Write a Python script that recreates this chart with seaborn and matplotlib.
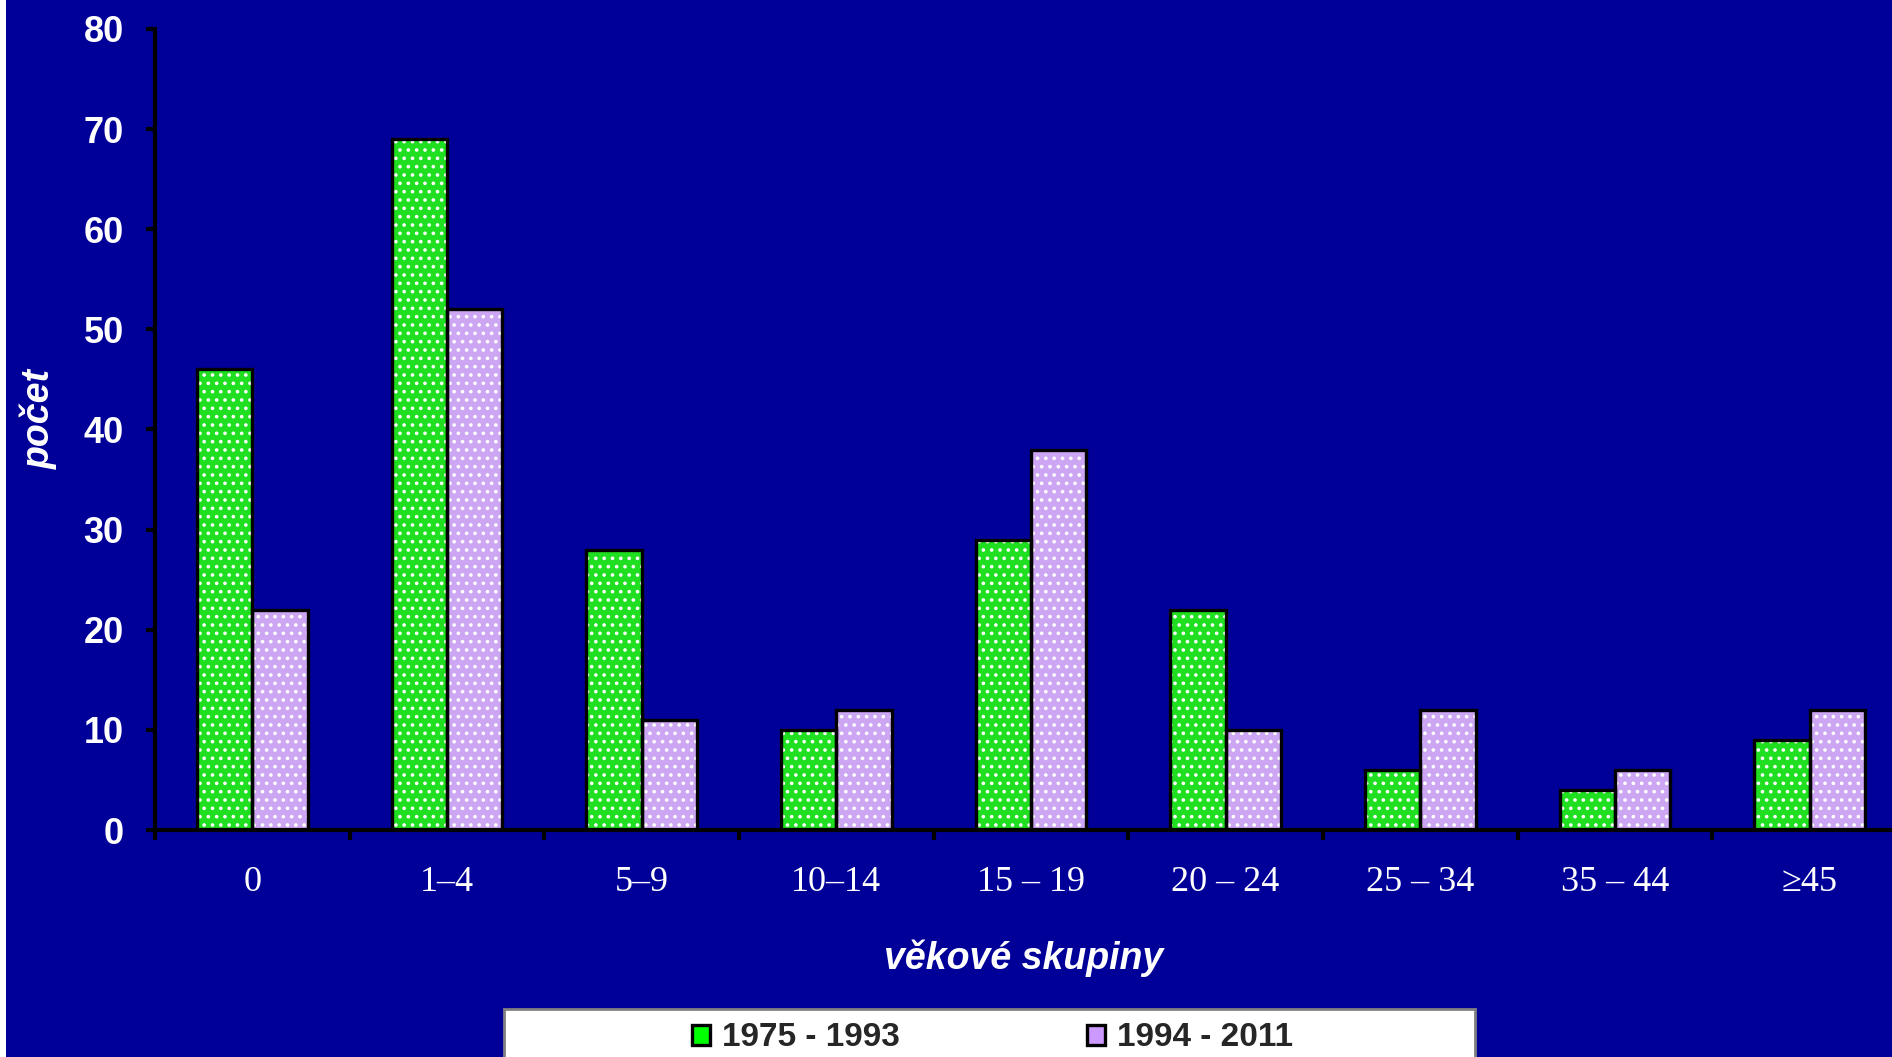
import pandas as pd
import matplotlib
matplotlib.use("Agg")
import matplotlib.pyplot as plt
from matplotlib.patches import Patch, Rectangle
import seaborn as sns

# data
groups = ["0", "1–4", "5–9", "10–14", "15 – 19", "20 – 24", "25 – 34", "35 – 44", "≥45"]
periods = ["1975 - 1993", "1994 - 2011"]
counts_1975_1993 = [46, 69, 28, 10, 29, 22, 6, 4, 9]
counts_1994_2011 = [22, 52, 11, 12, 38, 10, 12, 6, 12]
colors = ["#00ff00", "#cc99ff"]
navy = "#000099"

df = pd.DataFrame({
    "skupina": groups * 2,
    "obdobi": [periods[0]] * len(groups) + [periods[1]] * len(groups),
    "pocet": counts_1975_1993 + counts_1994_2011,
})

sns.set_theme(style="ticks")
plt.rcParams["font.family"] = ["Liberation Sans", "DejaVu Sans"]
plt.rcParams["hatch.linewidth"] = 1.4

W, H = 1892, 1057
fig = plt.figure(figsize=(W / 100, H / 100), dpi=100, facecolor=navy)
# thin white strip on the left edge
fig.patches.append(Rectangle((0, 0), 6 / W, 1, transform=fig.transFigure, facecolor="white", edgecolor="none"))

ax = fig.add_axes([155 / W, 1 - 830 / H, (1907 - 155) / W, (830 - 29) / H])
ax.set_facecolor(navy)

# filled, dotted bars
sns.barplot(data=df, x="skupina", y="pocet", hue="obdobi", order=groups, hue_order=periods,
            palette=colors, width=0.57, gap=0, errorbar=None, edgecolor="white",
            linewidth=0, hatch="..", legend=False, ax=ax)
# black outlines on top
sns.barplot(data=df, x="skupina", y="pocet", hue="obdobi", order=groups, hue_order=periods,
            palette=["black", "black"], fill=False, width=0.57, gap=0, errorbar=None,
            linewidth=2.4, legend=False, ax=ax)

ax.set_xlim(-0.5, len(groups) - 0.5)
ax.set_ylim(0, 80)
ax.set_yticks(range(0, 81, 10))
ax.set_xlabel("")
ax.set_ylabel("")

for s in ["top", "right"]:
    ax.spines[s].set_visible(False)
for s in ["left", "bottom"]:
    ax.spines[s].set_color("black")
    ax.spines[s].set_linewidth(3)

ax.tick_params(axis="y", colors="black", length=6.5, width=3, pad=16, labelcolor="white")
for lab in ax.get_yticklabels():
    lab.set_fontsize(26)
    lab.set_fontweight("bold")

ax.set_xticks([i - 0.5 for i in range(len(groups) + 1)], minor=True)
ax.tick_params(axis="x", which="minor", length=7.5, width=3, color="black", direction="out")
ax.tick_params(axis="x", which="major", length=0, pad=26, labelcolor="white")
for lab in ax.get_xticklabels():
    lab.set_fontsize(26)
    lab.set_family(["Liberation Serif", "DejaVu Serif"])

fig.text(39 / W, 1 - 419 / H, "počet", rotation=90, ha="center", va="center",
         color="white", fontsize=27, fontweight="bold", fontstyle="italic")
fig.text(1024 / W, 1 - 958 / H, "věkové skupiny", ha="center", va="center",
         color="white", fontsize=27, fontweight="bold", fontstyle="italic")

# legend box running off the bottom edge
fig.patches.append(Rectangle((504 / W, -0.02), (1475 - 504) / W, 0.02 + (1057 - 1009) / H,
                             transform=fig.transFigure, facecolor="white",
                             edgecolor="#808080", linewidth=2))
handles = [Patch(facecolor=c, edgecolor="black", linewidth=2.4) for c in colors]
fig.legend(handles, periods, loc="center left", bbox_to_anchor=(692 / W, 1 - 1038 / H),
           ncol=2, frameon=False, prop={"size": 24, "weight": "bold"},
           handlelength=0.55, handleheight=0.55, handletextpad=0.35, columnspacing=5.6,
           borderpad=0, borderaxespad=0)

fig.savefig("out.png", dpi=100, facecolor=navy)
